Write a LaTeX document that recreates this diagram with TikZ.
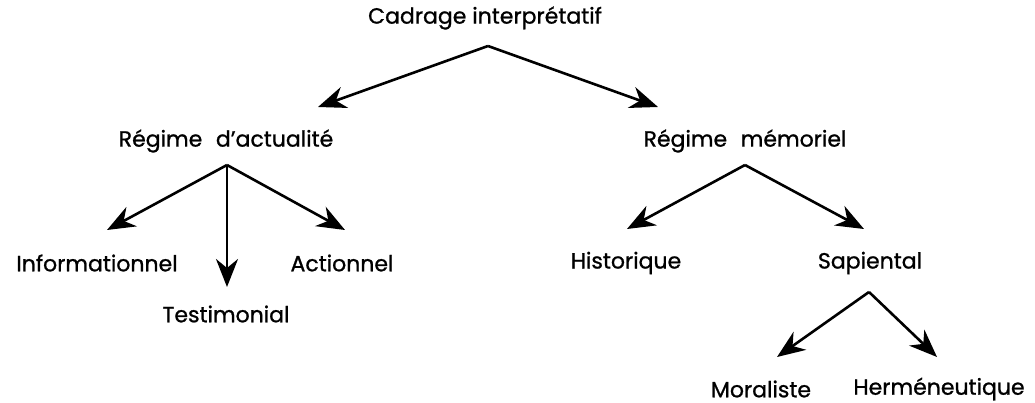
\documentclass[tikz,border=0pt]{standalone}
\usepackage{fontspec}
\setmainfont{Poppins}[FakeBold=1]
\usetikzlibrary{arrows.meta,calc}

\begin{document}
\begin{tikzpicture}[x=1pt, y=-1pt, line width=2.6pt,
	>={Stealth[length=28pt, width=22pt, inset=9pt]},
	every node/.style={font=\fontsize{22}{26}\selectfont, inner sep=0pt}]
	\useasboundingbox (0,0) rectangle (1035,403);
	% levels
	\node (cadrage) at (485,18) {Cadrage interprétatif};
	\node (actualite) at (226,141) {Régime\hspace{.35em} d’actualité};
	\node (memoriel) at (745,141) {Régime\hspace{.35em} mémoriel};
	\node (informationnel) at (97,263) {Informationnel};
	\node (testimonial) at (226,314) {Testimonial};
	\node (actionnel) at (342,263) {Actionnel};
	\node (historique) at (626,263) {Historique};
	\node (sapiental) at (870,263) {Sapiental};
	\node (moraliste) at (761,389) {Moraliste};
	\node (hermeneutique) at (939,389) {Herméneutique};
	% forks
	\coordinate (cadrage-fork) at ($(cadrage)+(3,28)$);
	\coordinate (actualite-fork) at ($(actualite)+(1,24)$);
	\coordinate (memoriel-fork) at ($(memoriel)+(0,24)$);
	\coordinate (sapiental-fork) at ($(sapiental)+(-1,29)$);
	\draw[->] (cadrage-fork) to ($(actualite)+(92,-34)$);
	\draw[->] (cadrage-fork) to ($(memoriel)+(-87,-34)$);
	\draw[->] (actualite-fork) to ($(informationnel)+(10,-33)$);
	\draw[->] (actualite-fork) to ($(testimonial)+(1,-27)$);
	\draw[->] (actualite-fork) to ($(actionnel)+(3,-33)$);
	\draw[->] (memoriel-fork) to ($(historique)+(1,-34)$);
	\draw[->] (memoriel-fork) to ($(sapiental)+(-6,-34)$);
	\draw[->] (sapiental-fork) to ($(moraliste)+(16,-32)$);
	\draw[->] (sapiental-fork) to ($(hermeneutique)+(-2,-32)$);
\end{tikzpicture}
\end{document}
